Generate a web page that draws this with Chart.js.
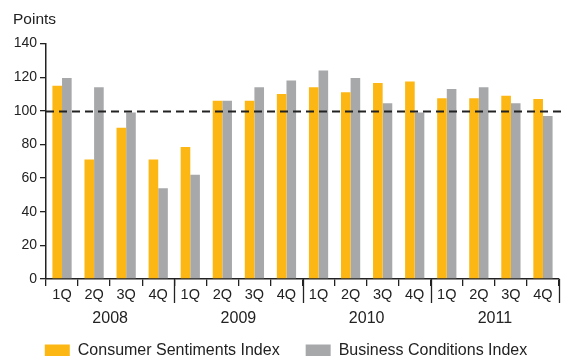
<!DOCTYPE html>
<html>
<head>
<meta charset="utf-8">
<title>Consumer Sentiments and Business Conditions Index</title>
<script src="https://cdn.jsdelivr.net/npm/chart.js@4.4.0/dist/chart.umd.min.js"></script>
<style>
  html, body { margin: 0; padding: 0; background: #fff; }
  #wrap { width: 563px; height: 356px; }
</style>
</head>
<body>
<div id="wrap"><canvas id="indexChart"></canvas></div>
<script>
// quarterly index values, 2008-2011
const quarters = ['1Q', '2Q', '3Q', '4Q', '1Q', '2Q', '3Q', '4Q',
                  '1Q', '2Q', '3Q', '4Q', '1Q', '2Q', '3Q', '4Q'];
const years = ['2008', '2009', '2010', '2011'];
const consumerSentiments = [115, 71, 90, 71, 78.5, 106, 106, 110, 114, 111, 116.5, 117.5, 107.5, 107.5, 109, 107];
const businessConditions = [119.5, 114, 99, 54, 62, 106, 114, 118, 124, 119.5, 104.5, 99, 113, 114, 104.5, 97];
const baseline = 100;

const textColor = '#222';
const fontFamily = '"Liberation Sans", Arial, sans-serif';

// dashed line at the 100-point mark
const baselinePlugin = {
  id: 'baseline',
  afterDatasetsDraw(chart) {
    const { ctx, chartArea, scales: { y } } = chart;
    const py = Math.round(y.getPixelForValue(baseline)) + 0.5;
    ctx.save();
    ctx.strokeStyle = '#222';
    ctx.lineWidth = 2;
    ctx.setLineDash([8, 5]);
    ctx.beginPath();
    ctx.moveTo(chartArea.left, py);
    ctx.lineTo(chart.width, py);
    ctx.stroke();
    ctx.restore();
  }
};

// longer ticks between the years, with the year names under each group of quarters
const yearAxis = {
  id: 'yearAxis',
  afterDraw(chart) {
    const { ctx, scales: { x } } = chart;
    const half = (x.getPixelForValue(1) - x.getPixelForValue(0)) / 2;
    ctx.save();
    ctx.strokeStyle = '#222';
    ctx.lineWidth = 1.3;
    ctx.beginPath();
    for (let i = 4; i <= quarters.length; i += 4) {
      const px = Math.round(x.getPixelForValue(i - 1) + half) + 0.5;
      ctx.moveTo(px, x.top);
      ctx.lineTo(px, x.top + 24);
    }
    ctx.stroke();

    ctx.fillStyle = textColor;
    ctx.font = '16px ' + fontFamily;
    ctx.textAlign = 'center';
    ctx.textBaseline = 'middle';
    years.forEach((year, k) => {
      const cx = (x.getPixelForValue(k * 4) + x.getPixelForValue(k * 4 + 3)) / 2;
      ctx.fillText(year, cx, x.top + 40);
    });
    ctx.restore();
  }
};

new Chart(document.getElementById('indexChart'), {
  type: 'bar',
  data: {
    labels: quarters,
    datasets: [
      {
        label: 'Consumer Sentiments Index',
        data: consumerSentiments,
        backgroundColor: '#FCB715',
        borderWidth: 0
      },
      {
        label: 'Business Conditions Index',
        data: businessConditions,
        backgroundColor: '#A7A8AA',
        borderWidth: 0
      }
    ]
  },
  options: {
    responsive: true,
    maintainAspectRatio: false,
    animation: false,
    // legend sits low, partly past the bottom edge
    layout: { padding: { left: 13, right: 4, top: 0, bottom: -13 } },
    datasets: {
      bar: { categoryPercentage: 0.6, barPercentage: 1 }
    },
    scales: {
      x: {
        offset: true,
        grid: { offset: true, drawOnChartArea: false, color: '#222', tickLength: 7, lineWidth: 1.3 },
        border: { color: '#222', width: 1.5 },
        ticks: { color: textColor, font: { family: fontFamily, size: 14.5 }, padding: 0, maxRotation: 0, autoSkip: false },
        // room for the quarter labels plus the year row
        afterFit(scale) { scale.height = 38; }
      },
      y: {
        min: 0,
        max: 140,
        ticks: { stepSize: 20, color: textColor, font: { family: fontFamily, size: 14 }, padding: 3 },
        grid: { drawOnChartArea: false, color: '#222', tickLength: 6, lineWidth: 1.3 },
        border: { color: '#222', width: 1.5 },
        afterFit(scale) { scale.width = 33; }
      }
    },
    plugins: {
      title: {
        display: true,
        text: 'Points',
        align: 'start',
        color: textColor,
        font: { family: fontFamily, size: 15.5, weight: 'normal' },
        padding: { top: 10, bottom: 15 }
      },
      legend: {
        position: 'bottom',
        labels: {
          color: textColor,
          font: { family: fontFamily, size: 16 },
          boxWidth: 25,
          boxHeight: 13,
          padding: 26
        }
      },
      tooltip: { enabled: false }
    }
  },
  plugins: [baselinePlugin, yearAxis]
});
</script>
</body>
</html>
